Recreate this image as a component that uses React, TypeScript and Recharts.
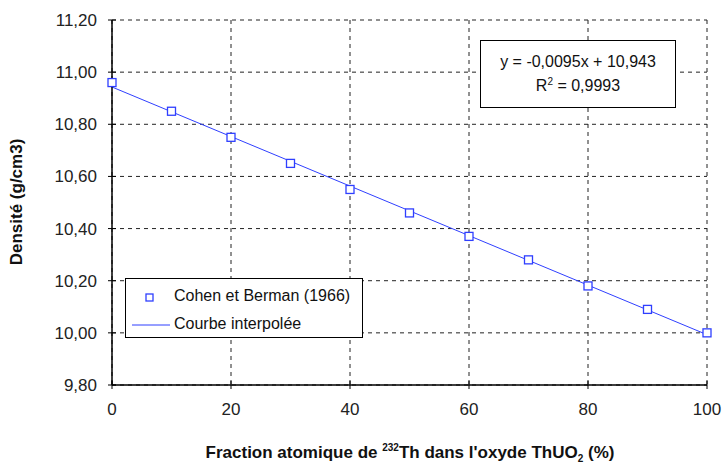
import {
  CartesianGrid,
  ComposedChart,
  Legend,
  Line,
  Scatter,
  XAxis,
  YAxis,
} from "recharts";

const fractions = [0, 10, 20, 30, 40, 50, 60, 70, 80, 90, 100];
const densities = [10.96, 10.85, 10.75, 10.65, 10.55, 10.46, 10.37, 10.28, 10.18, 10.09, 10.0];
const fitX = [0, 100];
const fitY = [10.943, 9.993];
const xTicks = [0, 20, 40, 60, 80, 100];
const yTicks = [9.8, 10.0, 10.2, 10.4, 10.6, 10.8, 11.0, 11.2];

const points = fractions.map((x, i) => ({ x, d: densities[i] }));
const fit = fitX.map((x, i) => ({ x, f: fitY[i] }));

const BLUE = "#2f3fff";
const FONT = "'Liberation Sans', Arial, sans-serif";
const LEFT = 112;
const BOTTOM = 385;

const fmt = (v: number) => v.toFixed(2).replace(".", ",");

function YTick({ y, payload }: any) {
  return (
    <g>
      <line x1={LEFT - 4} x2={LEFT + 4} y1={y} y2={y} stroke="#000" />
      <text x={97} y={y} dy={6} textAnchor="end" fontSize={17} fill="#222" fontFamily={FONT}>
        {fmt(payload.value)}
      </text>
    </g>
  );
}

function XTick({ x, payload }: any) {
  return (
    <g>
      <line x1={x} x2={x} y1={BOTTOM - 4} y2={BOTTOM + 4} stroke="#000" />
      <text x={x} y={BOTTOM + 30} textAnchor="middle" fontSize={17} fill="#222" fontFamily={FONT}>
        {payload.value}
      </text>
    </g>
  );
}

function XTitle() {
  return (
    <text x={410} y={458} textAnchor="middle" fontSize={17} fontWeight="bold" fill="#111" fontFamily={FONT}>
      Fraction atomique de <tspan fontSize={10} dy={-7}>232</tspan>
      <tspan dy={7}>Th dans l'oxyde ThUO</tspan>
      <tspan fontSize={10} dy={4}>2</tspan>
      <tspan dy={-4}> (%)</tspan>
    </text>
  );
}

function YTitle() {
  return (
    <text
      x={22}
      y={202}
      transform="rotate(-90 22 202)"
      textAnchor="middle"
      fontSize={17}
      fontWeight="bold"
      fill="#111"
      fontFamily={FONT}
    >
      Densité (g/cm3)
    </text>
  );
}

function Square({ cx, cy }: any) {
  return <rect x={cx - 4} y={cy - 4} width={8} height={8} fill="#fff" stroke={BLUE} strokeWidth={1.3} />;
}

function LegendBox() {
  return (
    <div
      style={{
        border: "1px solid #000",
        background: "#fff",
        width: 238,
        height: 60,
        boxSizing: "border-box",
        fontFamily: FONT,
        fontSize: 16,
        color: "#111",
        position: "relative",
      }}
    >
      <svg width={60} height={60} style={{ position: "absolute", left: 0, top: 0 }}>
        <rect x={20} y={15} width={7} height={7} fill="#fff" stroke={BLUE} strokeWidth={1.3} />
        <line x1={6} x2={44} y1={46} y2={46} stroke={BLUE} strokeWidth={1} />
      </svg>
      <div style={{ position: "absolute", left: 48, top: 8 }}>Cohen et Berman (1966)</div>
      <div style={{ position: "absolute", left: 48, top: 36 }}>Courbe interpolée</div>
    </div>
  );
}

export default function App() {
  return (
    <div style={{ position: "relative", width: 723, height: 467, background: "#fff" }}>
      <style>{"body{margin:0}"}</style>
      <ComposedChart width={723} height={467} margin={{ top: 20, right: 16, bottom: 0, left: 0 }}>
        <CartesianGrid stroke="#222" strokeDasharray="4 4" />
        <XAxis
          type="number"
          dataKey="x"
          domain={[0, 100]}
          ticks={xTicks}
          tick={<XTick />}
          tickLine={false}
          axisLine={{ stroke: "#000", strokeWidth: 1.5 }}
          height={82}
          label={<XTitle />}
        />
        <YAxis
          type="number"
          domain={[9.8, 11.2]}
          ticks={yTicks}
          tick={<YTick />}
          tickLine={false}
          axisLine={{ stroke: "#000", strokeWidth: 1.5 }}
          width={112}
          label={<YTitle />}
        />
        <Line
          data={fit}
          dataKey="f"
          type="linear"
          stroke={BLUE}
          strokeWidth={1}
          dot={false}
          isAnimationActive={false}
        />
        <Scatter data={points} dataKey="d" shape={<Square />} isAnimationActive={false} />
        <Legend
          layout="horizontal"
          verticalAlign="middle"
          align="center"
          content={<LegendBox />}
          wrapperStyle={{ position: "absolute", left: 125, top: 278, width: 238 }}
        />
      </ComposedChart>
      <div
        style={{
          position: "absolute",
          left: 480,
          top: 40,
          width: 196,
          height: 68,
          boxSizing: "border-box",
          border: "1px solid #000",
          background: "#fff",
          fontFamily: FONT,
          fontSize: 16,
          color: "#111",
          textAlign: "center",
          lineHeight: "24px",
          paddingTop: 9,
        }}
      >
        <div>y = -0,0095x + 10,943</div>
        <div>
          R<sup style={{ fontSize: 10, verticalAlign: "top", lineHeight: "16px" }}>2</sup> = 0,9993
        </div>
      </div>
    </div>
  );
}
